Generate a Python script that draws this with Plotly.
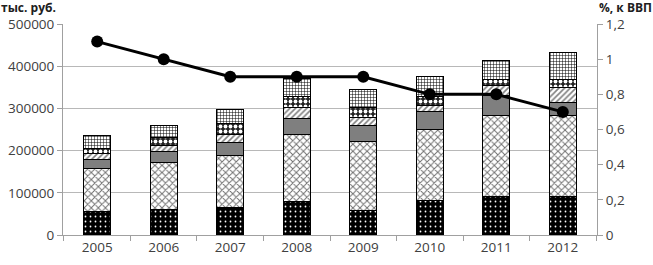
import plotly.graph_objects as go

years = ["2005", "2006", "2007", "2008", "2009", "2010", "2011", "2012"]
# stacked components (thousand rubles), bottom to top
s1 = [55000, 61600, 64700, 79000, 59200, 81300, 90800, 90800]
s2 = [103000, 109400, 124800, 158000, 163500, 167700, 193200, 193200]
s3 = [22000, 28000, 30100, 39500, 37900, 43000, 47700, 29500]
s4 = [13500, 14000, 19500, 26100, 18400, 16000, 23300, 36500]
s5 = [11500, 18500, 25700, 26400, 23600, 21000, 14000, 19000]
s6 = [30000, 28500, 33300, 42000, 42400, 46000, 44000, 64600]
share_gdp = [1.1, 1.0, 0.9, 0.9, 0.9, 0.8, 0.8, 0.7]

right_ticks = [0, 0.2, 0.4, 0.6, 0.8, 1.0, 1.2]
right_labels = ["0", "0,2", "0,4", "0,6", "0,8", "1", "1,2"]

fig = go.Figure()
styles = [
    (s1, dict(shape=".", fgcolor="#ffffff", bgcolor="#000000", size=5, solidity=0.1)),
    (s2, dict(shape="x", fgcolor="#707070", bgcolor="#ffffff", size=5, solidity=0.35)),
    (s3, None),
    (s4, dict(shape="/", fgcolor="#808080", bgcolor="#ffffff", size=4, solidity=0.4)),
    (s5, dict(shape=".", fgcolor="#ffffff", bgcolor="#202020", size=5, solidity=0.45)),
    (s6, dict(shape="+", fgcolor="#000000", bgcolor="#ffffff", size=3, solidity=0.3)),
]
for vals, pat in styles:
    marker = dict(line=dict(color="#000000", width=1))
    if pat is None:
        marker["color"] = "#7f7f7f"
    else:
        marker["color"] = pat["bgcolor"]
        marker["pattern"] = dict(shape=pat["shape"], fgcolor=pat["fgcolor"],
                                 bgcolor=pat["bgcolor"], size=pat["size"],
                                 solidity=pat["solidity"], fillmode="replace")
    fig.add_trace(go.Bar(x=years, y=vals, marker=marker, width=0.41, showlegend=False,
                         hoverinfo="skip"))

fig.add_trace(go.Scatter(x=years, y=share_gdp, yaxis="y2", mode="lines+markers",
                         line=dict(color="#000000", width=3),
                         marker=dict(color="#000000", size=12), showlegend=False,
                         hoverinfo="skip"))

tf = dict(family="Open Sans, Liberation Sans, sans-serif", size=13.5, color="#404040")
title_font = dict(family="Open Sans, sans-serif", size=12, color="#202020")
fig.update_layout(
    barmode="stack",
    width=653, height=265,
    margin=dict(l=63, r=56, t=24, b=30, autoexpand=False),
    paper_bgcolor="#ffffff", plot_bgcolor="#ffffff",
    font=tf,
    xaxis=dict(type="category", showgrid=False, showline=True, linecolor="#a0a0a0",
               ticks="outside", tickson="boundaries", ticklen=5, tickcolor="#a0a0a0",
               tickfont=tf, automargin=False),
    yaxis=dict(range=[0, 500000], dtick=100000, tickformat="d", showgrid=True,
               gridcolor="#b8b8b8", showline=True, linecolor="#a0a0a0",
               ticks="outside", ticklen=5, tickcolor="#a0a0a0", zeroline=False,
               tickfont=tf, automargin=False),
    yaxis2=dict(range=[0, 1.2], overlaying="y", side="right", tickvals=right_ticks,
                ticktext=right_labels, showgrid=False, showline=True, linecolor="#a0a0a0",
                ticks="outside", ticklen=5, tickcolor="#a0a0a0", zeroline=False,
                tickfont=tf, automargin=False),
    annotations=[
        dict(text="<b>тыс. руб.</b>", xref="paper", yref="paper", x=-0.118, y=1.0,
             xanchor="left", yanchor="bottom", yshift=7, borderpad=0, showarrow=False,
             font=title_font),
        dict(text="<b>%, к ВВП</b>", xref="paper", yref="paper", x=1.104, y=1.0,
             xanchor="right", yanchor="bottom", yshift=7, borderpad=0, showarrow=False,
             font=title_font),
    ],
)
fig.write_html("out.html", config={"displayModeBar": False},
               post_script="document.body.style.margin='0';document.body.style.padding='0';")
